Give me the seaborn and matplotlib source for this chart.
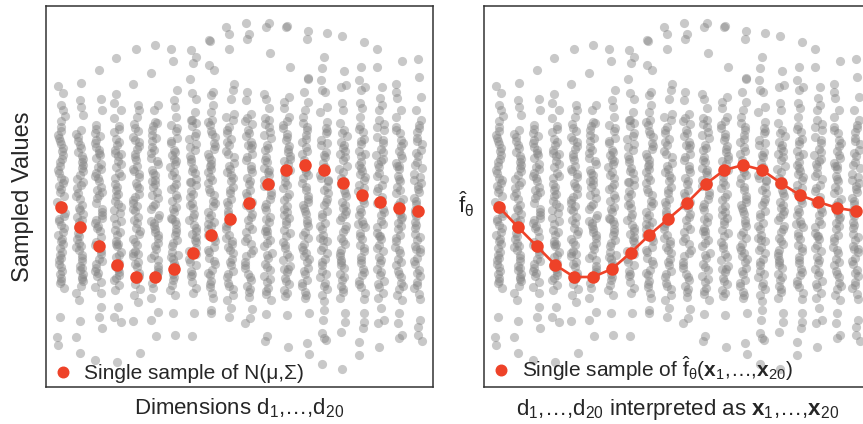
import numpy as np
import pandas as pd
import matplotlib
matplotlib.use("Agg")
import matplotlib.pyplot as plt
from matplotlib.lines import Line2D
import seaborn as sns

sns.set_theme(style="white")
plt.rcParams["font.family"] = ["Liberation Sans", "DejaVu Sans"]
plt.rcParams["mathtext.fontset"] = "custom"
plt.rcParams["mathtext.rm"] = "Liberation Sans"
plt.rcParams["mathtext.it"] = "Liberation Sans:italic"
plt.rcParams["mathtext.bf"] = "Liberation Sans:bold"

# ---------------- data ----------------
dims = [f"d{i}" for i in range(1, 21)]

dim_01 = [11.4, 10.7, 9.5, 9.0, 8.4, 7.9,
          7.3, 6.5, 6.2, 5.6, 4.9, 4.5, 3.8, 3.0, 2.7, 2.0, 1.4, 1.1, 0.4, -0.2, -0.9, -1.3, -1.9,
          -2.5, -2.8, -3.5, -4.1, -4.4, -5.2, -5.8, -6.0, -6.7, -7.4, -7.8, -8.3, -8.8, 5.2, 0.8, -3.9, -6.4,
          6.9, 5.9, 4.1, 3.4, 2.2, 1.7, -0.5, -1.6, -2.1, -3.2, -4.8, -5.5, -7.1, -8.1,
          -11.7, -13.7, -14.5]
dim_02 = [11.7, 10.0, 9.3, 8.5,
          7.0, 6.6, 5.9, 5.2, 4.8, 4.1, 3.5, 2.9, 2.5, 1.8, 1.2, 0.7, 0.1, -0.5, -1.0, -1.7, -2.2,
          -2.7, -3.3, -3.9, -4.3, -5.0, -5.5, -6.1, -6.6, -7.0, -7.7, -8.1, -8.6, 3.2, -1.4, -4.7, -7.4,
          6.3, 5.5, 4.4, 3.8, 2.1, 1.5, 0.4, -0.8, -2.0, -3.6, -4.6, -5.8, -6.8, -7.9,
          -9.3, -10.0, -12.1, -13.7, -15.3]
dim_03 = [13.0, 10.1, 9.0, 7.5,
          7.1, 6.4, 6.0, 5.3, 4.7, 4.2, 3.6, 3.1, 2.4, 1.9, 1.3, 0.8, 0.2, -0.3, -0.9, -1.5, -2.0,
          -2.6, -3.1, -3.7, -4.2, -4.8, -5.4, -5.9, -6.4, -7.1, -7.6, -8.2, -8.7, 5.7, 2.2, -2.3, -6.8,
          6.7, 5.0, 4.5, 3.3, 2.7, 1.0, 0.5, -1.2, -1.8, -2.8, -4.5, -5.1, -6.1, -7.3,
          -9.3, -10.7, -11.7, -12.8, -16.0]
dim_04 = [14.2, 10.6, 9.7, 9.0, 8.2,
          7.4, 6.8, 6.1, 5.5, 5.0, 4.4, 3.9, 3.3, 2.7, 2.2, 1.6, 1.0, 0.4, -0.1, -0.7, -1.3, -1.8,
          -2.4, -3.0, -3.5, -4.1, -4.6, -5.2, -5.7, -6.3, -6.9, -7.5, -8.0, -8.5, 4.6, 0.6, -4.4, -7.2,
          7.1, 5.8, 4.7, 3.6, 2.4, 1.3, -0.4, -1.0, -2.1, -3.2, -4.4, -5.5, -6.6, -7.8,
          -9.0, -10.7, -11.7, -12.2, -16.2]
dim_05 = [15.1, 11.6, 9.5, 9.0, 8.3,
          7.6, 6.9, 6.3, 5.8, 5.1, 4.6, 4.0, 3.4, 2.9, 2.3, 1.7, 1.2, 0.6, 0.0, -0.6, -1.1, -1.7,
          -2.3, -2.8, -3.4, -3.9, -4.5, -5.1, -5.6, -6.2, -6.7, -7.3, -7.9, -8.4, -8.9, 3.1, -0.3, -5.4,
          7.2, 6.0, 5.4, 4.3, 2.6, 1.4, 0.3, -0.9, -2.0, -3.1, -4.2, -5.3, -6.4, -7.6,
          -9.5, -10.2, -12.1, -15.3]
dim_06 = [15.5, 12.7, 9.5, 9.0, 7.7,
          7.8, 7.0, 6.5, 5.9, 5.3, 4.7, 4.2, 3.6, 3.0, 2.5, 1.9, 1.3, 0.8, 0.2, -0.4, -0.9, -1.5,
          -2.1, -2.6, -3.2, -3.8, -4.3, -4.9, -5.5, -6.0, -6.6, -7.2, -7.7, -8.3, -8.8, 2.0, -2.9, -6.9,
          7.4, 6.2, 5.0, 3.9, 2.7, 1.6, 0.5, -0.6, -1.8, -2.3, -3.5, -4.6, -5.8, -7.4,
          -9.8, -11.2, -12.0, -13.6]
dim_07 = [15.1, 13.9, 11.0, 10.0, 9.3, 8.3,
          7.5, 6.9, 6.2, 5.7, 5.0, 4.5, 3.9, 3.3, 2.8, 2.2, 1.6, 1.1, 0.5, -0.1, -0.7, -1.2, -1.8,
          -2.4, -2.9, -3.5, -4.0, -4.6, -5.2, -5.7, -6.3, -6.8, -7.4, -8.0, -8.5, -9.0, 4.1, -1.9, -5.9,
          7.2, 5.9, 4.8, 3.6, 2.5, 1.3, 0.2, -0.9, -2.1, -3.2, -4.3, -5.5, -6.6, -7.7,
          -9.5, -11.3, -13.5]
dim_08 = [15.0, 14.3, 13.7, 12.1, 10.7, 10.1, 8.8, 8.0,
          8.0, 7.4, 6.7, 6.1, 5.6, 5.0, 4.4, 3.8, 3.2, 2.7, 2.1, 1.5, 0.9, 0.3, -0.3, -0.8, -1.4,
          -2.0, -2.5, -3.1, -3.7, -4.2, -4.8, -5.4, -5.9, -6.5, -7.1, -7.6, -8.2, -8.8, -9.3, 1.8, -3.4,
          7.7, 6.4, 5.3, 4.1, 2.9, 1.8, 0.6, -0.5, -1.7, -2.8, -4.0, -5.1, -6.2, -7.4,
          -11.3, -13.6]
dim_09 = [16.0, 15.9, 13.5, 13.0, 10.8, 10.5, 9.5, 8.8,
          8.0, 7.5, 6.9, 6.3, 5.7, 5.1, 4.6, 4.0, 3.4, 2.8, 2.3, 1.7, 1.1, 0.5, -0.1, -0.6, -1.2,
          -1.8, -2.4, -2.9, -3.5, -4.1, -4.7, -5.2, -5.8, -6.4, -7.0, -7.5, -8.1, -8.7, -9.3, -9.8, 3.6, -2.2,
          7.8, 6.6, 5.4, 4.3, 3.1, 2.0, 0.8, -0.3, -1.5, -2.6, -3.8, -5.0, -6.1, -7.3, -8.4,
          -11.0, -11.3]
dim_10 = [17.3, 16.6, 15.1, 11.6, 11.0, 10.1,
          8.6, 8.0, 7.3, 6.7, 6.1, 5.5, 4.9, 4.3, 3.7, 3.1, 2.5, 1.9, 1.3, 0.7, 0.1, -0.5, -1.1,
          -1.7, -2.3, -2.9, -3.5, -4.1, -4.7, -5.3, -5.9, -6.5, -7.1, -7.7, -8.3, -8.9, -9.5, 2.8, -4.4,
          8.3, 7.0, 5.8, 4.6, 3.4, 2.2, 1.0, -0.2, -1.4, -2.6, -3.8, -5.0, -6.2, -7.4, -8.6,
          -10.0, -10.8, -11.7]
dim_11 = [17.7, 16.6, 16.1, 10.8, 10.0, 8.6,
          8.2, 7.6, 7.0, 6.4, 5.8, 5.2, 4.6, 4.0, 3.4, 2.8, 2.2, 1.6, 1.0, 0.4, -0.2, -0.8, -1.4,
          -2.0, -2.6, -3.2, -3.8, -4.4, -5.0, -5.6, -6.2, -6.8, -7.4, -8.0, -8.6, -9.2, -9.7, 5.5, -0.5,
          7.9, 6.7, 5.5, 4.3, 3.1, 1.9, 0.7, -0.5, -1.7, -2.9, -4.1, -5.3, -6.5, -7.7, -8.9,
          -10.9, -11.8, -12.3]
dim_12 = [17.7, 17.3, 14.7, 10.6, 10.1, 9.2, 8.2,
          8.0, 7.3, 6.8, 6.2, 5.5, 5.0, 4.3, 3.8, 3.2, 2.5, 2.0, 1.4, 0.8, 0.1, -0.4, -1.0, -1.7,
          -2.2, -2.8, -3.5, -4.0, -4.6, -5.3, -5.8, -6.4, -7.0, -7.6, -8.2, -8.8, -9.4, -10.0, 3.0, -3.1,
          7.6, 6.5, 5.2, 4.0, 2.8, 1.7, 0.5, -0.7, -1.9, -3.1, -4.3, -5.5, -6.7, -7.9, -9.1,
          -11.4, -13.6, -14.1]
dim_13 = [17.4, 17.3, 13.3, 10.3, 9.8, 9.2, 8.3,
          7.9, 7.2, 6.6, 6.0, 5.4, 4.8, 4.1, 3.6, 3.0, 2.3, 1.8, 1.2, 0.6, 0.0, -0.6, -1.2, -1.8,
          -2.4, -3.0, -3.6, -4.2, -4.8, -5.4, -6.0, -6.6, -7.2, -7.8, -8.4, -9.0, -9.6, 4.4, -1.5, -6.9,
          7.5, 6.3, 5.1, 3.9, 2.7, 1.5, 0.3, -0.9, -2.1, -3.3, -4.5, -5.7, -6.9, -8.1, -9.3,
          -11.5, -14.7]
dim_14 = [16.9, 16.1, 12.2, 12.1, 10.8, 9.8, 9.0, 8.3,
          7.7, 7.0, 6.5, 5.8, 5.3, 4.6, 4.0, 3.5, 2.8, 2.2, 1.7, 1.0, 0.4, -0.2, -0.8, -1.4, -2.0,
          -2.6, -3.2, -3.8, -4.4, -5.0, -5.6, -6.2, -6.8, -7.4, -8.0, -8.6, -9.2, -9.8, 3.1, -0.5, -5.3,
          7.3, 6.1, 4.9, 3.7, 2.5, 1.3, 0.1, -1.1, -2.3, -3.5, -4.7, -5.9, -7.1, -8.3, -9.5,
          -11.3, -14.3, -15.4]
dim_15 = [16.7, 14.3, 13.2, 12.0, 11.0, 10.8, 9.3, 8.8, 7.8,
          7.2, 6.7, 6.0, 5.5, 4.8, 4.3, 3.7, 3.0, 2.5, 1.9, 1.3, 0.7, 0.1, -0.5, -1.1, -1.7,
          -2.3, -2.9, -3.5, -4.1, -4.7, -5.3, -5.9, -6.5, -7.1, -7.7, -8.3, -8.9, -9.5, -10.1, 2.0, -4.0,
          6.9, 5.7, 4.5, 3.3, 2.2, 1.0, -0.2, -1.4, -2.6, -3.8, -5.0, -6.2, -7.4, -8.6,
          -11.0, -12.0, -13.3, -13.8, -14.0, -16.4]
dim_16 = [16.4, 12.9, 11.5, 11.3, 9.7, 9.0, 7.7,
          7.0, 6.4, 5.8, 5.2, 4.6, 4.0, 3.4, 2.8, 2.2, 1.6, 1.0, 0.4, -0.2, -0.8, -1.4, -2.0,
          -2.6, -3.2, -3.8, -4.4, -5.0, -5.6, -6.2, -6.8, -7.4, -8.0, -8.6, -9.2, -9.8, 4.9, -1.1, -6.0,
          6.7, 5.5, 4.3, 3.1, 1.9, 0.7, -0.5, -1.7, -2.9, -4.1, -5.3, -6.5, -7.7, -8.9,
          -11.3, -12.2, -13.2, -16.9]
dim_17 = [15.8, 13.3, 12.0, 11.3, 11.0, 9.7, 9.2, 8.3,
          7.4, 6.8, 6.1, 5.6, 4.9, 4.4, 3.8, 3.2, 2.6, 2.0, 1.5, 0.9, 0.3, -0.3, -0.9, -1.5, -2.1,
          -2.7, -3.3, -3.9, -4.5, -5.1, -5.7, -6.3, -6.9, -7.5, -8.1, -8.7, -9.3, -9.9, 2.9, -2.4,
          7.1, 5.9, 4.6, 3.5, 2.3, 1.2, 0.0, -1.2, -2.4, -3.6, -4.8, -6.0, -7.2, -8.4,
          -11.3, -12.2, -12.8, -14.2, -15.5]
dim_18 = [15.1, 13.3, 11.3, 10.2, 9.5, 9.0, 8.0,
          7.6, 7.0, 6.3, 5.7, 5.1, 4.5, 3.9, 3.3, 2.7, 2.1, 1.5, 0.9, 0.3, -0.3, -0.9, -1.5, -2.1,
          -2.7, -3.3, -3.9, -4.5, -5.1, -5.7, -6.3, -6.9, -7.5, -8.1, -8.7, -9.3, -9.8, 4.1, -3.6,
          7.3, 6.0, 4.8, 3.6, 2.4, 1.2, 0.0, -1.2, -2.4, -3.6, -4.8, -6.0, -7.2, -8.4,
          -10.8, -12.0, -12.3, -14.7]
dim_19 = [13.9, 11.6, 10.8, 10.2, 9.0, 8.3,
          7.3, 6.7, 6.0, 5.4, 4.9, 4.2, 3.7, 3.1, 2.4, 1.9, 1.3, 0.7, 0.1, -0.5, -1.1, -1.7, -2.3,
          -2.9, -3.5, -4.1, -4.7, -5.3, -5.9, -6.5, -7.1, -7.7, -8.3, -8.9, -9.5, -10.0, 3.4, -1.9,
          7.0, 5.7, 4.5, 3.4, 2.1, 1.0, -0.2, -1.4, -2.6, -3.8, -5.0, -6.2, -7.4, -8.6,
          -11.3, -12.3, -13.5, -13.8]
dim_20 = [14.1, 12.3, 10.3, 9.0, 8.0,
          7.5, 6.8, 6.2, 5.6, 5.0, 4.4, 3.8, 3.2, 2.6, 2.0, 1.4, 0.8, 0.2, -0.4, -1.0, -1.6, -2.2,
          -2.8, -3.4, -4.0, -4.6, -5.2, -5.8, -6.4, -7.0, -7.6, -8.2, -8.8, -9.4, -9.9, 1.7, -4.9,
          7.2, 5.9, 4.7, 3.5, 2.3, 1.1, -0.1, -1.3, -2.5, -3.7, -4.9, -6.1, -7.3, -8.5,
          -12.0, -12.7, -13.5, -14.1]

samples = [dim_01, dim_02, dim_03, dim_04, dim_05, dim_06, dim_07, dim_08, dim_09, dim_10,
           dim_11, dim_12, dim_13, dim_14, dim_15, dim_16, dim_17, dim_18, dim_19, dim_20]

single_sample = [-0.7, -2.7, -4.6, -6.5, -7.7, -7.7, -6.9, -5.3, -3.5, -1.9,
                 -0.3, 1.6, 3.0, 3.5, 3.0, 1.7, 0.5, -0.2, -0.8, -1.1]

left_legend = "Single sample of N(μ,Σ)"
right_legend = (r"Single sample of $\hat{\mathrm{f}}_{\mathrm{θ}}$"
                r"($\mathbf{x}_{1}$,…,$\mathbf{x}_{20}$)")
left_xlabel = r"Dimensions $\mathrm{d}_{1}$,…,$\mathrm{d}_{20}$"
right_xlabel = (r"$\mathrm{d}_{1}$,…,$\mathrm{d}_{20}$ interpreted as "
                r"$\mathbf{x}_{1}$,…,$\mathbf{x}_{20}$")
left_ylabel = "Sampled Values"
right_ylabel = r"$\hat{\mathrm{f}}_{\mathrm{θ}}$"

# ---------------- build frames ----------------
df = pd.DataFrame({
    "dim": np.repeat(dims, [len(s) for s in samples]),
    "value": np.concatenate(samples),
})
red_df = pd.DataFrame({"dim": dims, "value": single_sample})

RED = "#EE4228"
GRAY = "#828282"
W, H = 863, 424

fig = plt.figure(figsize=(W / 100, H / 100), dpi=100)
axL = fig.add_axes([46 / W, 37 / H, 387 / W, 381 / H])
axR = fig.add_axes([484 / W, 37 / H, 387 / W, 381 / H])

for ax, connect in ((axL, False), (axR, True)):
    np.random.seed(7)
    sns.stripplot(data=df, x="dim", y="value", order=dims, color=GRAY, alpha=0.44,
                  size=6.6, jitter=0.21, linewidth=0, ax=ax, zorder=1)
    sns.pointplot(data=red_df, x="dim", y="value", order=dims, color=RED,
                  errorbar=None, marker="o", markersize=7.6,
                  linestyle="-" if connect else "none", linewidth=1.9,
                  ax=ax, zorder=5)
    ax.set_xlim(-0.8, 19.8)
    ax.set_ylim(-18.7, 19.4)
    ax.set_xticks([])
    ax.set_yticks([])
    for sp in ax.spines.values():
        sp.set_color("#333333")
        sp.set_linewidth(1.1)
        sp.set_visible(True)

handle = Line2D([], [], marker="o", color=RED, linestyle="none", markersize=7.6)
axL.legend(handles=[handle], labels=[left_legend], loc="lower left", frameon=False,
           fontsize=15, handlelength=1.2, handletextpad=0.4, borderaxespad=0.0,
           borderpad=0.2)
axR.legend(handles=[handle], labels=[right_legend], loc="lower left", frameon=False,
           fontsize=15, handlelength=1.2, handletextpad=0.4, borderaxespad=0.0,
           borderpad=0.2)

axL.set_xlabel(left_xlabel, fontsize=16)
axR.set_xlabel(right_xlabel, fontsize=16)
axL.xaxis.set_label_coords(0.5, -0.025)
axR.xaxis.set_label_coords(0.5, -0.025)

axL.set_ylabel(left_ylabel, fontsize=17)
axL.yaxis.set_label_coords(-0.032, 0.5)
axR.set_ylabel(right_ylabel, fontsize=16, rotation=0, ha="center", va="center")
axR.yaxis.set_label_coords(-0.047, 0.48)

fig.savefig("out.png", dpi=100)
